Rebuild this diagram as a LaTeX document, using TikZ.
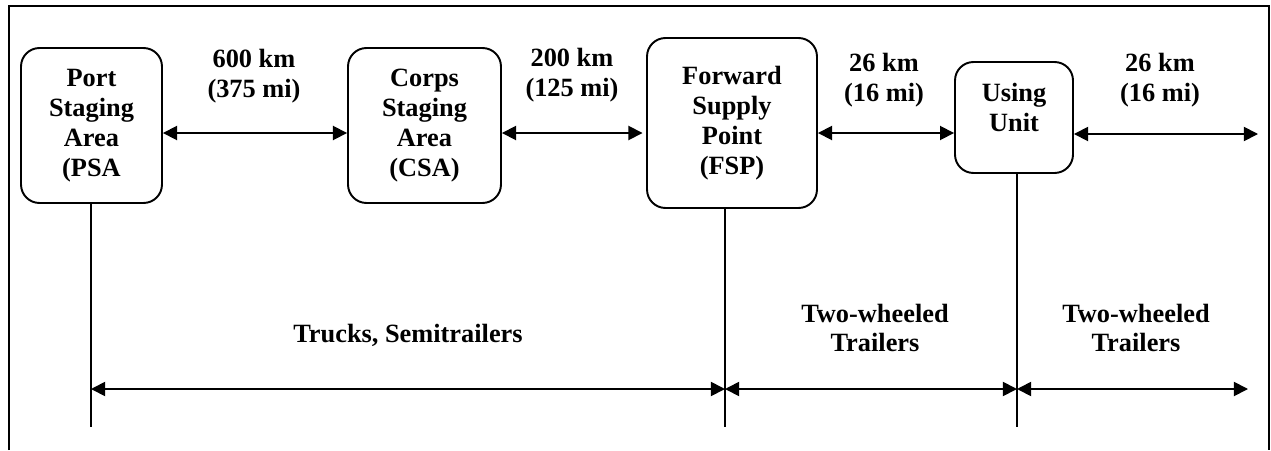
\documentclass[tikz,border=0pt]{standalone}
\usepackage{fontspec}
\setmainfont{Liberation Serif}
\usetikzlibrary{arrows.meta}
\newcommand{\labfont}{\fontsize{15}{17}\selectfont\bfseries}
\tikzset{
  stagebox/.style={draw,line width=1.1pt,rounded corners=10.5pt,align=center,
    font=\labfont,inner sep=0pt},
  distlab/.style={align=center,font=\labfont},
  twoway/.style={{Triangle[length=8pt,width=8pt]}-{Triangle[length=8pt,width=8pt]},
    line width=1pt},
  dropline/.style={line width=1.1pt},
}

\begin{document}
\begin{tikzpicture}[x=0.02cm,y=-0.02cm]
  \useasboundingbox (0,0) rectangle (1271,450);
  % frame, open at the bottom
  \draw[line width=1.1pt] (9,450)--(9,6)--(1269,6)--(1269,450);
  \draw[line width=1.7pt] (9,6)--(9,450);
  % stages
  \node[stagebox,minimum width=2.82cm,minimum height=3.1cm] (psa) at (91.5,125.5)
    {Port\\Staging\\Area\\(PSA};
  \node[stagebox,minimum width=3.06cm,minimum height=3.1cm] (csa) at (424.5,125.5)
    {Corps\\Staging\\Area\\(CSA)};
  \node[stagebox,minimum width=3.4cm,minimum height=3.4cm] (fsp) at (732,123)
    {Forward\\Supply\\Point\\(FSP)};
  \node[stagebox,minimum width=2.36cm,minimum height=2.22cm,text depth=12pt] (unit) at (1014,117.5)
    {Using\\Unit};
  % distances
  \coordinate (row) at (0,133);
  \coordinate (farend) at (1258,134);
  \draw[twoway] (psa.east |- row) -- (csa.west |- row);
  \draw[twoway,shorten >=2pt] (csa.east |- row) -- (fsp.west |- row);
  \draw[twoway] (fsp.east |- row) -- (unit.west |- row);
  \draw[twoway] (unit.east |- farend) -- (farend);
  \node[distlab] (d1) at (254,76) {600 km\\(375 mi)};
  \node[distlab] (d2) at (572,75) {200 km\\(125 mi)};
  \node[distlab] (d3) at (884,80) {26 km\\(16 mi)};
  \node[distlab] (d4) at (1160,80) {26 km\\(16 mi)};
  % transport legs
  \coordinate (tpsa) at (91,427);
  \coordinate (tfsp) at (725,427);
  \coordinate (tunit) at (1017,427);
  \coordinate (low) at (0,389);
  \coordinate (lowend) at (1248,389);
  \draw[dropline] (psa.south -| tpsa) -- (tpsa);
  \draw[dropline] (fsp.south -| tfsp) -- (tfsp);
  \draw[dropline] (unit.south -| tunit) -- (tunit);
  \draw[twoway] (tpsa |- low) -- (tfsp |- low);
  \draw[twoway] (tfsp |- low) -- (tunit |- low);
  \draw[twoway] (tunit |- low) -- (lowend);
  \node[distlab] (v1) at (408,335) {Trucks, Semitrailers};
  \node[distlab] (v2) at (875,328) {Two-wheeled\\Trailers};
  \node[distlab] (v3) at (1136,328) {Two-wheeled\\Trailers};
\end{tikzpicture}
\end{document}
